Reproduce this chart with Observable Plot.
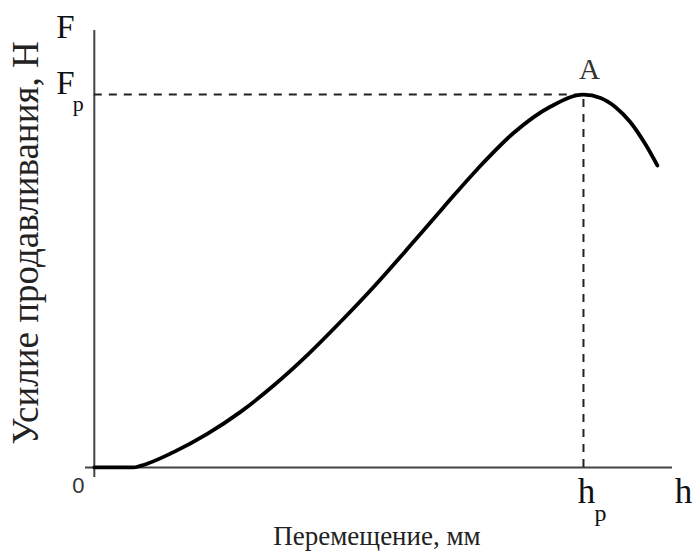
<!DOCTYPE html>
<html>
<head>
<meta charset="utf-8">
<script src="https://cdn.jsdelivr.net/npm/d3@7"></script>
<script src="https://cdn.jsdelivr.net/npm/@observablehq/plot@0.6"></script>
<style>
  html, body { margin: 0; padding: 0; background: #fff; }
</style>
</head>
<body>
<div id="chart"></div>
<script>
// Displacement h (arbitrary units, h_p = 10) and force F (arbitrary units, F_p = 10)
const hValues = [0, 0.5, 0.8, 0.94, 1.62, 2.31, 2.99, 3.66, 4.36, 5.03, 5.71, 6.46, 7.14, 7.83, 8.57, 9.33, 10.0, 10.35, 10.65, 10.96, 11.27, 11.51];
const FValues = [0, 0, 0, 0.04, 0.41, 0.90, 1.49, 2.19, 3.02, 3.90, 4.84, 5.95, 6.98, 8.00, 8.97, 9.68, 10.0, 9.91, 9.67, 9.26, 8.66, 8.10];

const hPeak = 10;   // h_p
const FPeak = 10;   // F_p
const xExtent = [-0.18, 11.82];
const yExtent = [-0.27, 11.72];

const xTitle = "Перемещение, мм";
const yTitle = "Усилие продавливания, Н";
const peakName = "A";
const originLabel = "0";
const forceLetter = "F";
const dispLetter = "h";
const peakSub = "p";

const curve = hValues.map((h, i) => ({h, F: FValues[i]}));

const serif = "Liberation Serif";

const chart = Plot.plot({
  width: 692,
  height: 552,
  marginLeft: 85,
  marginRight: 20,
  marginTop: 30,
  marginBottom: 75,
  x: {domain: xExtent, axis: null},
  y: {domain: yExtent, axis: null},
  style: {background: "#fff", fontFamily: serif, overflow: "visible", color: "#111"},
  marks: [
    // axes
    Plot.ruleY([0], {x1: xExtent[0], x2: xExtent[1], stroke: "#444", strokeWidth: 2}),
    Plot.ruleX([0], {y1: yExtent[0], y2: yExtent[1], stroke: "#444", strokeWidth: 2}),
    // dashed guide lines to the peak
    Plot.ruleY([FPeak], {x1: 0, x2: hPeak, stroke: "#222", strokeWidth: 2, strokeDasharray: "8,7"}),
    Plot.ruleX([hPeak], {y1: 0, y2: FPeak, stroke: "#222", strokeWidth: 2, strokeDasharray: "8,7"}),
    // curve
    Plot.line(curve, {x: "h", y: "F", curve: "monotone-x", stroke: "#000", strokeWidth: 3.8}),
    // labels on the y axis
    Plot.text([forceLetter], {x: 0, y: yExtent[1], dx: -29, dy: 7, lineAnchor: "bottom", textAnchor: "middle", fontSize: 33, fontFamily: serif}),
    Plot.text([forceLetter], {x: 0, y: FPeak, dx: -29, dy: -1, lineAnchor: "bottom", textAnchor: "middle", fontSize: 33, fontFamily: serif}),
    Plot.text([peakSub], {x: 0, y: FPeak, dx: -16, dy: 16, lineAnchor: "bottom", textAnchor: "middle", fontSize: 22, fontFamily: serif}),
    // peak point name
    Plot.text([peakName], {x: hPeak, y: FPeak, dx: 6, dy: -16, lineAnchor: "bottom", textAnchor: "middle", fontSize: 29, fontFamily: serif, fill: "#333"}),
    // labels on the x axis
    Plot.text([dispLetter], {x: hPeak, y: 0, dx: 3, dy: 36, lineAnchor: "bottom", textAnchor: "middle", fontSize: 35, fontFamily: serif}),
    Plot.text([peakSub], {x: hPeak, y: 0, dx: 17, dy: 54, lineAnchor: "bottom", textAnchor: "middle", fontSize: 24, fontFamily: serif}),
    Plot.text([dispLetter], {x: xExtent[1], y: 0, dx: 11, dy: 36, lineAnchor: "bottom", textAnchor: "middle", fontSize: 35, fontFamily: serif}),
    Plot.text([originLabel], {x: 0, y: 0, dx: -16, dy: 26, lineAnchor: "bottom", textAnchor: "middle", fontSize: 22, fontFamily: "Liberation Sans", fill: "#333"}),
    // axis titles
    Plot.text([xTitle], {frameAnchor: "bottom", dx: -2, dy: 67, lineAnchor: "bottom", textAnchor: "middle", fontSize: 27, fontFamily: serif, fill: "#222"}),
    Plot.text([yTitle], {frameAnchor: "left", rotate: -90, dx: -48, dy: -11, lineAnchor: "bottom", textAnchor: "middle", fontSize: 37, fontFamily: serif, fill: "#222"})
  ]
});

document.getElementById("chart").appendChild(chart);
</script>
</body>
</html>
